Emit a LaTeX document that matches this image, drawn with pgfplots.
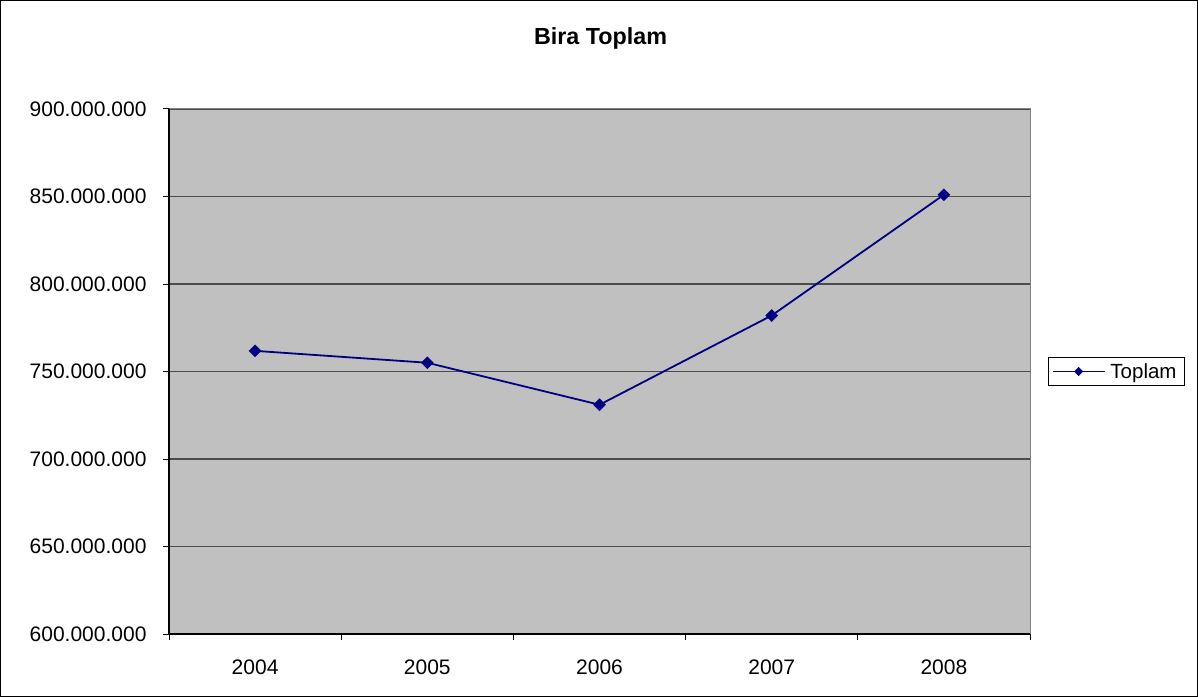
\documentclass[border=0pt]{standalone}
\usepackage{pgfplots}
\pgfplotsset{compat=1.18}
\usepackage{fontspec}
\setmainfont{Liberation Sans}
\definecolor{navyline}{HTML}{000080}
\definecolor{plotbg}{HTML}{C0C0C0}
\begin{document}
\begin{tikzpicture}[x=1pt,y=1pt]
\useasboundingbox (0,0) rectangle (1198,697);
\draw[black,line width=1pt] (0.5,0.5) rectangle (1197.5,696.5);
\node[font=\fontsize{23.3}{27}\selectfont\bfseries] at (600.5,658.5) {Bira Toplam};
\begin{axis}[
  at={(169pt,63pt)}, anchor=south west,
  scale only axis, width=861pt, height=525pt,
  xmin=-0.5, xmax=4.5, ymin=600000000, ymax=900000000,
  scaled y ticks=false,
  axis background/.style={fill=plotbg},
  axis line style={draw=none},
  tick align=outside,
  xtick pos=bottom, ytick pos=left,
  major tick length=6pt,
  xtick={-0.5,0.5,1.5,2.5,3.5,4.5}, xticklabels={},
  extra x ticks={0,1,2,3,4},
  extra x tick labels={2004,2005,2006,2007,2008},
  extra x tick style={major tick length=0pt, grid=none,
     xticklabel style={yshift=-22pt}},
  ytick={600000000,650000000,700000000,750000000,800000000,850000000,900000000},
  yticklabels={600.000.000,650.000.000,700.000.000,750.000.000,800.000.000,850.000.000,900.000.000},
  yticklabel style={xshift=-13pt},
  tick style={black, line width=1pt},
  ymajorgrids, major grid style={black!70, line width=1.2pt},
  ticklabel style={font=\fontsize{21}{25}\selectfont},
  legend style={at={(1.0213,0.5)}, anchor=west, draw=black, line width=0.8pt,
    font=\fontsize{20.5}{24}\selectfont, inner xsep=3pt, inner ysep=4pt,
    nodes={inner xsep=5pt},
    legend cell align=left},
  legend image code/.code={\draw[mark repeat=2,mark phase=2,#1,line width=1.7pt,mark size=3pt] plot coordinates {(0pt,0pt) (26pt,0pt) (52pt,0pt)};},
  clip=false,
]
\addplot[navyline, line width=1.8pt, mark=square*, mark size=4.2pt,
  mark options={fill=navyline, draw=navyline, line width=0.5pt, rotate=45}]
  coordinates {(0,761800000) (1,755000000) (2,731000000) (3,782000000) (4,851000000)};
\addlegendentry{Toplam}
\draw[black!50, line width=1pt] (rel axis cs:0,1) -- (rel axis cs:1,1) -- (rel axis cs:1,0);
\draw[black, line width=1.2pt] (rel axis cs:0,1) -- (rel axis cs:0,0) -- (rel axis cs:1,0);
\end{axis}
\end{tikzpicture}
\end{document}
